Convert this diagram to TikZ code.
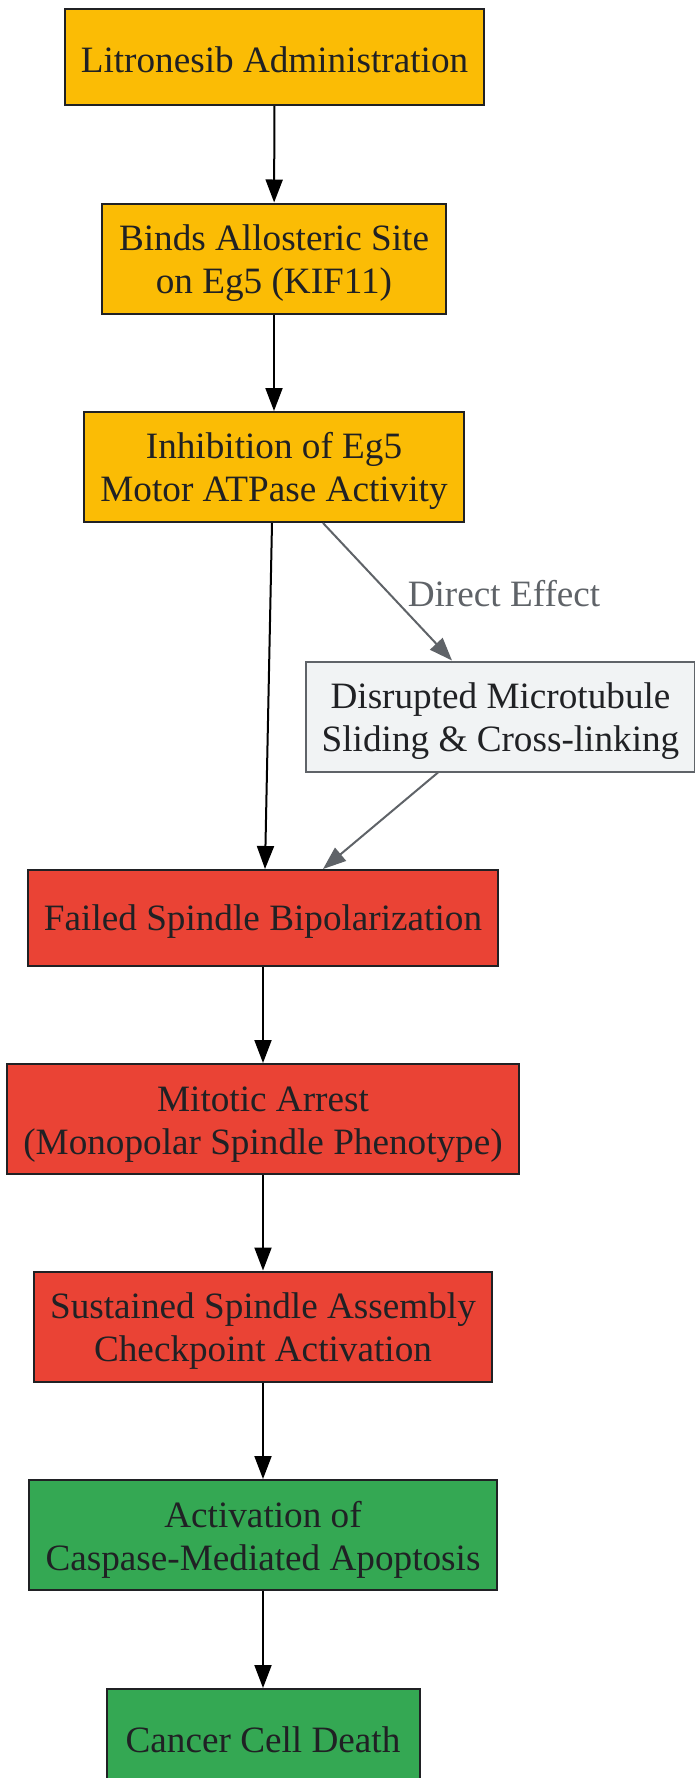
\documentclass[tikz,border=0pt]{standalone}
\usepackage{fontspec}
\setmainfont{Liberation Serif}
\usetikzlibrary{arrows.meta, positioning}
\definecolor{gyellow}{HTML}{FBBC05}
\definecolor{gred}{HTML}{EA4335}
\definecolor{ggreen}{HTML}{34A853}
\definecolor{glight}{HTML}{F1F3F4}
\definecolor{ggrey}{HTML}{5F6368}
\definecolor{gdark}{HTML}{202124}
\tikzset{
  stepbox/.style={draw=gdark, line width=1pt, align=center, inner sep=0pt,
    minimum height=48pt, text=gdark, font=\fontsize{18.6}{21.5}\selectfont,
    execute at begin node=\rule{0pt}{16pt}},
  twoline/.style={minimum height=55pt, execute at begin node=\rule{0pt}{39pt}},
  flow/.style={-{Triangle[length=11.5pt,width=8.5pt]}, line width=1pt, black},
  side/.style={flow, ggrey}
}
\begin{document}
\begin{tikzpicture}[x=0.5pt, y=-0.5pt]
\useasboundingbox (0,0) rectangle (695,1778);
\node[stepbox, fill=gyellow, minimum width=209.5pt] (lit) at (274.5,57) {Litronesib Administration};
\node[stepbox, twoline, fill=gyellow, minimum width=172pt] (binds) at (274,258.5) {Binds Allosteric Site\\on Eg5 (KIF11)};
\node[stepbox, twoline, fill=gyellow, minimum width=190pt] (inhib) at (274,467) {Inhibition of Eg5\\Motor ATPase Activity};
\node[stepbox, twoline, fill=glight, draw=ggrey, minimum width=194.5pt] (disr) at (500.5,716.5) {Disrupted Microtubule\\Sliding \& Cross-linking};
\node[stepbox, fill=gred, minimum width=235pt] (fail) at (263,918) {Failed Spindle Bipolarization};
\node[stepbox, twoline, fill=gred, minimum width=256pt] (mit) at (263,1119) {Mitotic Arrest\\(Monopolar Spindle Phenotype)};
\node[stepbox, twoline, fill=gred, minimum width=229pt] (sust) at (263,1326.5) {Sustained Spindle Assembly\\Checkpoint Activation};
\node[stepbox, twoline, fill=ggreen, minimum width=234pt] (act) at (263,1535) {Activation of\\Caspase-Mediated Apoptosis};
\node[stepbox, fill=ggreen, minimum width=156.5pt] (death) at (263,1737) {Cancer Cell Death};
% main chain
\draw[flow] (lit) -- (binds);
\draw[flow] (binds) -- (inhib);
\draw[flow] ([xshift=-1pt]inhib.south) -- ([xshift=1pt]fail.north);
\draw[side] ([xshift=24.5pt]inhib.south) -- node[pos=0.51, anchor=west, xshift=9pt, inner sep=0pt, text=ggrey, font=\fontsize{18.6}{21.5}\selectfont] {Direct Effect} ([xshift=-24.25pt]disr.north);
\draw[side] ([xshift=-31.25pt]disr.south) -- ([xshift=30pt]fail.north);
\foreach \a/\b in {fail/mit, mit/sust, sust/act, act/death}
  \draw[flow] (\a) -- (\b);
\end{tikzpicture}
\end{document}
